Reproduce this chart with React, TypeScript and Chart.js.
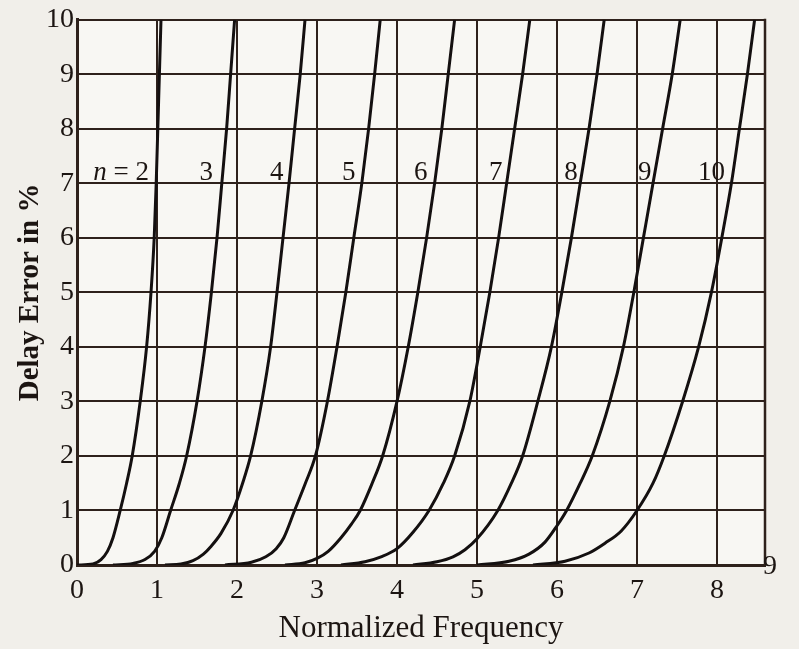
import React, { useEffect, useRef } from "react";
import { Chart, registerables } from "chart.js";
Chart.register(...registerables);

// Tick values
const xTickValues = [0, 1, 2, 3, 4, 5, 6, 7, 8];
const yTickValues = [0, 1, 2, 3, 4, 5, 6, 7, 8, 9, 10];
const extraXTickLabel = "9";

// Curves: [normalized frequency, delay error %]
const curveN2 = [[0, 0], [0.2, 0.02], [0.3, 0.1], [0.38, 0.25], [0.45, 0.5], [0.54, 1], [0.62, 1.5], [0.69, 2], [0.79, 3], [0.87, 4], [0.925, 5], [0.965, 6], [0.99, 7], [1.01, 8], [1.03, 9], [1.05, 10]];
const curveN3 = [[0.45, 0], [0.7, 0.03], [0.85, 0.1], [0.97, 0.25], [1.06, 0.5], [1.17, 1], [1.28, 1.5], [1.37, 2], [1.5, 3], [1.6, 4], [1.68, 5], [1.75, 6], [1.81, 7], [1.87, 8], [1.92, 9], [1.97, 10]];
const curveN4 = [[1.1, 0], [1.3, 0.02], [1.45, 0.08], [1.58, 0.2], [1.68, 0.35], [1.8, 0.58], [1.95, 1], [2.07, 1.5], [2.17, 2], [2.31, 3], [2.42, 4], [2.5, 5], [2.575, 6], [2.65, 7], [2.72, 8], [2.79, 9], [2.85, 10]];
const curveN5 = [[1.85, 0], [2.18, 0.05], [2.36, 0.15], [2.49, 0.3], [2.585, 0.5], [2.72, 1], [2.855, 1.5], [2.98, 2], [3.13, 3], [3.25, 4], [3.36, 5], [3.46, 6], [3.56, 7], [3.645, 8], [3.72, 9], [3.79, 10]];
const curveN6 = [[2.6, 0], [2.85, 0.04], [3.0, 0.12], [3.14, 0.25], [3.3, 0.5], [3.43, 0.75], [3.54, 1], [3.69, 1.5], [3.82, 2], [4.0, 3], [4.14, 4], [4.26, 5], [4.37, 6], [4.47, 7], [4.56, 8], [4.64, 9], [4.72, 10]];
const curveN7 = [[3.3, 0], [3.6, 0.06], [3.8, 0.15], [4.0, 0.3], [4.2, 0.6], [4.4, 1], [4.58, 1.5], [4.72, 2], [4.91, 3], [5.04, 4], [5.16, 5], [5.27, 6], [5.37, 7], [5.47, 8], [5.57, 9], [5.66, 10]];
const curveN8 = [[4.2, 0], [4.5, 0.06], [4.7, 0.15], [4.85, 0.28], [5.0, 0.48], [5.26, 1], [5.43, 1.5], [5.57, 2], [5.76, 3], [5.93, 4], [6.06, 5], [6.18, 6], [6.29, 7], [6.4, 8], [6.5, 9], [6.59, 10]];
const curveN9 = [[5.0, 0], [5.4, 0.07], [5.65, 0.2], [5.85, 0.42], [6.0, 0.72], [6.12, 1], [6.29, 1.5], [6.44, 2], [6.66, 3], [6.83, 4], [6.96, 5], [7.08, 6], [7.2, 7], [7.32, 8], [7.44, 9], [7.54, 10]];
const curveN10 = [[5.7, 0], [6.1, 0.07], [6.4, 0.22], [6.6, 0.4], [6.8, 0.62], [7.0, 1.0], [7.2, 1.5], [7.34, 2], [7.57, 3], [7.77, 4], [7.93, 5], [8.06, 6], [8.18, 7], [8.28, 8], [8.38, 9], [8.47, 10]];

const curves = [curveN2, curveN3, curveN4, curveN5, curveN6, curveN7, curveN8, curveN9, curveN10];
const curveOrders = [2, 3, 4, 5, 6, 7, 8, 9, 10];
// right edge of each order label (x value), all at same height
const labelX = [0.9, 1.7, 2.58, 3.48, 4.38, 5.32, 6.26, 7.18, 8.1];
const labelY = 7.2;

const SERIF = '"Liberation Serif", "DejaVu Serif", serif';
const INK = "#1c1512";
const GRID = "#2e211b";

const labelPlugin = {
  id: "curveLabels",
  beforeDraw(chart: any) {
    const { ctx, chartArea } = chart;
    ctx.save();
    ctx.fillStyle = "#f1efea";
    ctx.fillRect(0, 0, chart.width, chart.height);
    ctx.fillStyle = "#f8f7f3";
    ctx.fillRect(chartArea.left, chartArea.top, chartArea.right - chartArea.left, chartArea.bottom - chartArea.top);
    ctx.restore();
  },
  afterDatasetsDraw(chart: any) {
    const { ctx, chartArea } = chart;
    const xs = chart.scales.x;
    const ys = chart.scales.y;
    ctx.save();
    // right frame line
    ctx.strokeStyle = GRID;
    ctx.lineWidth = 2.5;
    ctx.beginPath();
    ctx.moveTo(chartArea.right, chartArea.top - 1);
    ctx.lineTo(chartArea.right, chartArea.bottom + 1);
    ctx.stroke();

    ctx.fillStyle = INK;
    ctx.textBaseline = "middle";
    ctx.textAlign = "right";
    const py = ys.getPixelForValue(labelY);
    curveOrders.forEach((n, i) => {
      const px = xs.getPixelForValue(labelX[i]);
      if (i === 0) {
        ctx.font = `27px ${SERIF}`;
        const rest = " = " + n;
        ctx.fillText(rest, px, py);
        const w = ctx.measureText(rest).width;
        ctx.font = `italic 27px ${SERIF}`;
        ctx.fillText("n", px - w, py);
      } else {
        ctx.font = `27px ${SERIF}`;
        ctx.fillText(String(n), px, py);
      }
    });
    ctx.font = `28px ${SERIF}`;
    ctx.textAlign = "left";
    ctx.textBaseline = "top";
    ctx.fillText(extraXTickLabel, chartArea.right - 2, chartArea.bottom - 12);
    ctx.restore();
  },
};

export default function App() {
  const ref = useRef<HTMLCanvasElement | null>(null);
  useEffect(() => {
    document.body.style.margin = "0";
    const canvas = ref.current;
    if (!canvas) return;
    const chart = new Chart(canvas, {
      type: "scatter",
      data: {
        datasets: curves.map((c, i) => ({
          label: "n = " + curveOrders[i],
          data: c.map(([x, y]) => ({ x, y })),
          showLine: true,
          borderColor: "#141010",
          borderWidth: 3,
          pointRadius: 0,
          cubicInterpolationMode: "monotone" as const,
          fill: false,
        })),
      },
      options: {
        animation: false,
        responsive: false,
        events: [],
        layout: { padding: { top: 17, right: 34, left: 0, bottom: 0 } },
        plugins: { legend: { display: false }, tooltip: { enabled: false } },
        scales: {
          x: {
            type: "linear",
            min: 0,
            max: 8.6,
            afterBuildTicks: (scale: any) => {
              scale.ticks = xTickValues.map((v) => ({ value: v }));
            },
            afterFit: (scale: any) => {
              scale.height = 84;
            },
            grid: { color: GRID, lineWidth: 2, drawTicks: false },
            border: { color: GRID, width: 3 },
            ticks: { color: INK, font: { family: SERIF, size: 28 }, padding: 9, maxRotation: 0, autoSkip: false },
            title: {
              display: true,
              text: "Normalized Frequency",
              color: INK,
              font: { family: SERIF, size: 31 },
              padding: { top: 0, bottom: 2 },
            },
          },
          y: {
            type: "linear",
            min: 0,
            max: 10,
            afterBuildTicks: (scale: any) => {
              scale.ticks = yTickValues.map((v) => ({ value: v }));
            },
            afterFit: (scale: any) => {
              scale.width = 77;
            },
            grid: { color: GRID, lineWidth: 2, drawTicks: false },
            border: { color: GRID, width: 3 },
            ticks: { color: INK, font: { family: SERIF, size: 28 }, padding: 3, autoSkip: false },
            title: {
              display: true,
              text: "Delay Error in %",
              color: INK,
              font: { family: SERIF, size: 29, weight: "bold" },
              padding: { top: 13, bottom: 0 },
            },
          },
        },
      },
      plugins: [labelPlugin],
    });
    return () => chart.destroy();
  }, []);
  return (
    <div style={{ width: 799, height: 649 }}>
      <canvas ref={ref} width={799} height={649} style={{ display: "block" }} />
    </div>
  );
}
